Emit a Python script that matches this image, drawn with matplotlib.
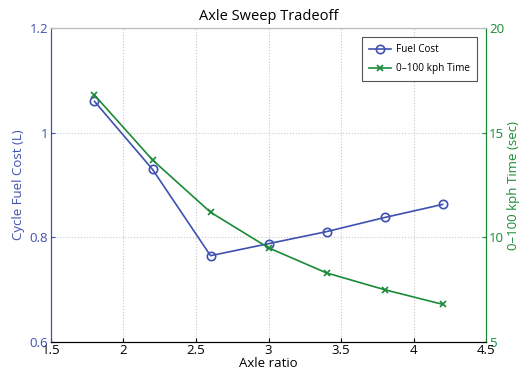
import matplotlib
matplotlib.use('Agg')
import matplotlib.pyplot as plt
from matplotlib.ticker import FuncFormatter

plt.rcParams['font.family'] = ['Open Sans', 'DejaVu Sans']

axle_ratio = [1.8, 2.2, 2.6, 3.0, 3.4, 3.8, 4.2]
fuel_cost = [1.060, 0.930, 0.765, 0.788, 0.811, 0.838, 0.863]
accel_time = [16.8, 13.7, 11.2, 9.5, 8.3, 7.5, 6.8]

blue = '#3f51b0'
green = '#1a8a36'

fig = plt.figure(figsize=(5.2, 3.75), dpi=100, facecolor='white')
ax = fig.add_axes([0.098, 0.088, 0.837, 0.837])
ax2 = ax.twinx()

fmt = FuncFormatter(lambda v, p: f'{v:g}')

l1, = ax.plot(axle_ratio, fuel_cost, color=blue, lw=1.2, marker='o', ms=6,
              mfc='none', mec=blue, mew=1.2, label='Fuel Cost')
l2, = ax2.plot(axle_ratio, accel_time, color=green, lw=1.2, marker='x', ms=5,
               mew=1.2, label='0\u2013100 kph Time')

ax.set_xlim(1.5, 4.5)
ax.set_ylim(0.6, 1.2)
ax2.set_ylim(5, 20)
ax.set_xticks([1.5, 2, 2.5, 3, 3.5, 4, 4.5])
ax.set_yticks([0.6, 0.8, 1.0, 1.2])
ax2.set_yticks([5, 10, 15, 20])
ax.xaxis.set_major_formatter(fmt)
ax.yaxis.set_major_formatter(fmt)

ax.grid(True, linestyle=':', color='#c8c8c8', lw=0.8)

ax.tick_params(axis='x', direction='in', length=3, pad=1.5, labelsize=9.5, colors='black', top=False)
ax.tick_params(axis='y', direction='in', length=3, pad=2, labelsize=9.5, colors=blue)
ax2.tick_params(axis='y', direction='in', length=3, pad=2, labelsize=9.5, colors=green)

for a in (ax, ax2):
    a.spines['left'].set_color(blue)
    a.spines['right'].set_color(green)
    a.spines['top'].set_color('#bbbbbb')
    a.spines['bottom'].set_color('black')
    for s in a.spines.values():
        s.set_linewidth(0.8)

ax.set_xlabel('Axle ratio', fontsize=9.5, labelpad=0)
ax.set_ylabel('Cycle Fuel Cost (L)', fontsize=9.5, color=blue, labelpad=3)
ax2.set_ylabel('0\u2013100 kph Time (sec)', fontsize=9.5, color=green, labelpad=2)
ax.set_title('Axle Sweep Tradeoff', fontsize=10.5, pad=6)

leg = ax.legend([l1, l2], [l1.get_label(), l2.get_label()], loc='upper right',
                fontsize=7.2, fancybox=False, framealpha=1, edgecolor='#555555',
                borderaxespad=0.9, handlelength=2.2, labelspacing=0.8,
                borderpad=0.7, handletextpad=0.5)
leg.get_frame().set_linewidth(0.8)

fig.savefig('out.png', dpi=100, facecolor='white')
